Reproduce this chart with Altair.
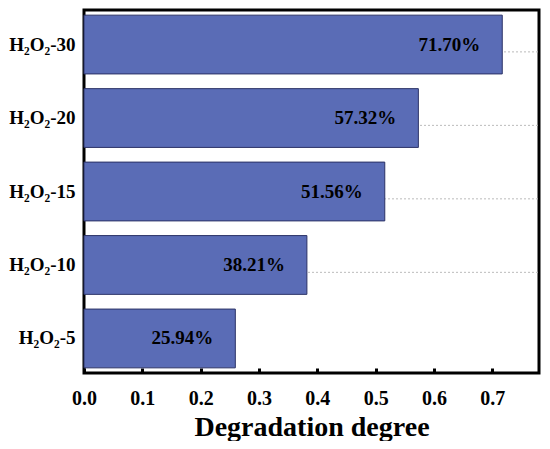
import altair as alt
import pandas as pd

categories = ["H\u2082O\u2082-30", "H\u2082O\u2082-20", "H\u2082O\u2082-15", "H\u2082O\u2082-10", "H\u2082O\u2082-5"]
values = [0.7170, 0.5732, 0.5156, 0.3821, 0.2594]
labels = ["71.70%", "57.32%", "51.56%", "38.21%", "25.94%"]
x_ticks = [0.0, 0.1, 0.2, 0.3, 0.4, 0.5, 0.6, 0.7]

df = pd.DataFrame({"cat": categories, "val": values, "lab": labels})
gap_df = pd.DataFrame({"cat": categories[:-1]})

W, H = 455, 363
FONT = "Liberation Serif"
step = H / (len(categories) - 0.2 + 2 * 0.07)

xscale = alt.Scale(domain=[0, 0.78], nice=False, zero=True)
yscale = alt.Scale(domain=categories, paddingInner=0.2, paddingOuter=0.07)

xaxis = alt.Axis(
    values=x_ticks, format=".1f", title="Degradation degree", grid=False, domain=False,
    offset=-5, tickSize=5, tickWidth=3, tickColor="black", labelPadding=15,
    labelFlush=False, labelFont=FONT, labelFontSize=20, labelFontWeight="bold",
    labelColor="black",
    titleFont=FONT, titleFontSize=28, titleFontWeight="bold", titleColor="black",
    titlePadding=5,
)
yaxis = alt.Axis(
    title=None, grid=False, domain=False, offset=-5, tickSize=5, tickWidth=3,
    tickColor="black", labelPadding=9, labelFont=FONT, labelFontSize=19,
    labelFontWeight="bold", labelColor="black",
)

bars = alt.Chart(df).mark_bar(
    color="#5a6cb6", stroke="#2b3266", strokeWidth=1
).encode(
    x=alt.X("val:Q", scale=xscale, axis=xaxis),
    y=alt.Y("cat:N", scale=yscale, axis=yaxis, sort=categories),
)

gaps = alt.Chart(gap_df).mark_rule(
    color="#bbbbbb", strokeDash=[2, 2], strokeWidth=1
).encode(
    y=alt.Y("cat:N", scale=yscale, sort=categories),
    x=alt.value(0),
    x2=alt.value(W),
    yOffset=alt.value(step / 2),
)

text = alt.Chart(df).mark_text(
    align="right", baseline="middle", dx=-22, font=FONT, fontSize=19,
    fontWeight="bold", color="black"
).encode(
    x=alt.X("val:Q", scale=xscale),
    y=alt.Y("cat:N", scale=yscale, sort=categories),
    text="lab:N",
)

chart = alt.layer(gaps, bars, text).properties(
    width=W, height=H,
    autosize=alt.AutoSizeParams(type="none"),
    padding={"left": 76, "top": 2, "right": 2, "bottom": 68},
).configure(
    background="white"
).configure_view(
    stroke="black", strokeWidth=3
)

chart.save("out.html", embed_options={"renderer": "svg", "actions": False})
